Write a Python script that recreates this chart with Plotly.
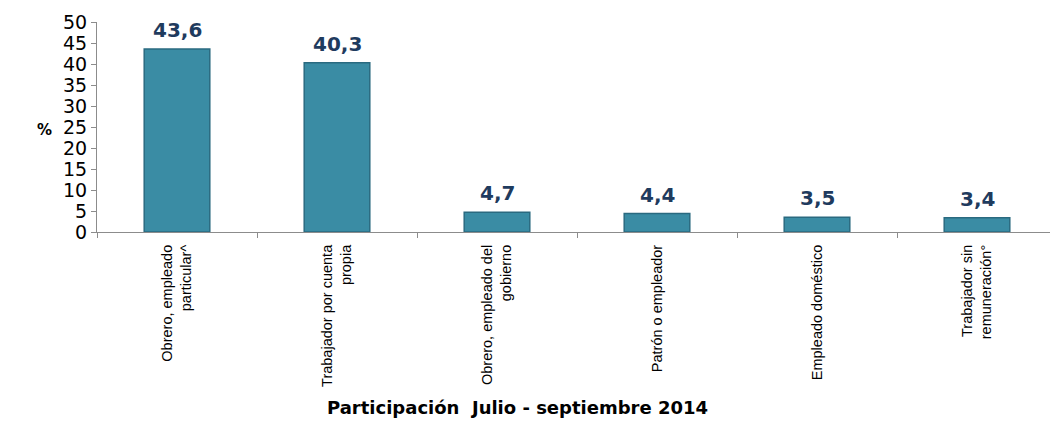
import plotly.graph_objects as go

categorias = [
    "Obrero, empleado<br>particular^",
    "Trabajador por cuenta<br>propia",
    "Obrero, empleado del<br>gobierno",
    "Patrón o empleador",
    "Empleado doméstico",
    "Trabajador sin<br>remuneración°",
]
participacion = [43.6, 40.3, 4.7, 4.4, 3.5, 3.4]
etiquetas = [f"{v:.1f}".replace(".", ",") for v in participacion]

fig = go.Figure()
fig.add_trace(go.Bar(
    x=categorias, y=participacion,
    marker=dict(color="#3a8ca4", line=dict(color="#2a6a80", width=1.5)),
    width=0.41, hoverinfo="x+y",
))

for cat, val, txt in zip(categorias, participacion, etiquetas):
    fig.add_annotation(
        x=cat, y=val, text=f"<b>{txt}</b>", showarrow=False,
        yanchor="bottom", yshift=5,
        font=dict(family="DejaVu Sans", size=20, color="#1f3b5e"),
    )

fig.add_annotation(
    xref="paper", yref="paper", x=-0.055, y=0.486, xanchor="center",
    text="<b>%</b>", showarrow=False,
    font=dict(family="DejaVu Sans", size=15, color="#000"),
)
fig.add_annotation(
    xref="paper", yref="paper", x=0.4375, y=-0.838, xanchor="center", yanchor="middle",
    text="<b>Participación  Julio - septiembre 2014</b>", showarrow=False,
    font=dict(family="DejaVu Sans", size=18, color="#000"),
)

# la página pone 8px de margen al cuerpo, se compensa aquí
fig.update_layout(
    width=1058, height=424,
    margin=dict(l=89, r=9, t=14, b=200),
    plot_bgcolor="white", paper_bgcolor="white",
    showlegend=False,
    xaxis=dict(
        automargin=False,
        showline=True, linecolor="#8c8c8c", linewidth=1,
        ticks="outside", tickson="boundaries", ticklen=5, tickcolor="#8c8c8c",
        tickangle=-90, ticklabelstandoff=6,
        tickfont=dict(family="Liberation Sans", size=14.5, color="#000"),
    ),
    yaxis=dict(
        automargin=False,
        range=[0, 50], dtick=5, showgrid=False, zeroline=False,
        showline=True, linecolor="#8c8c8c", linewidth=1,
        ticks="outside", ticklen=5, tickcolor="#8c8c8c",
        tickfont=dict(family="DejaVu Sans", size=19, color="#000"),
    ),
)

fig.write_html("out.html")
